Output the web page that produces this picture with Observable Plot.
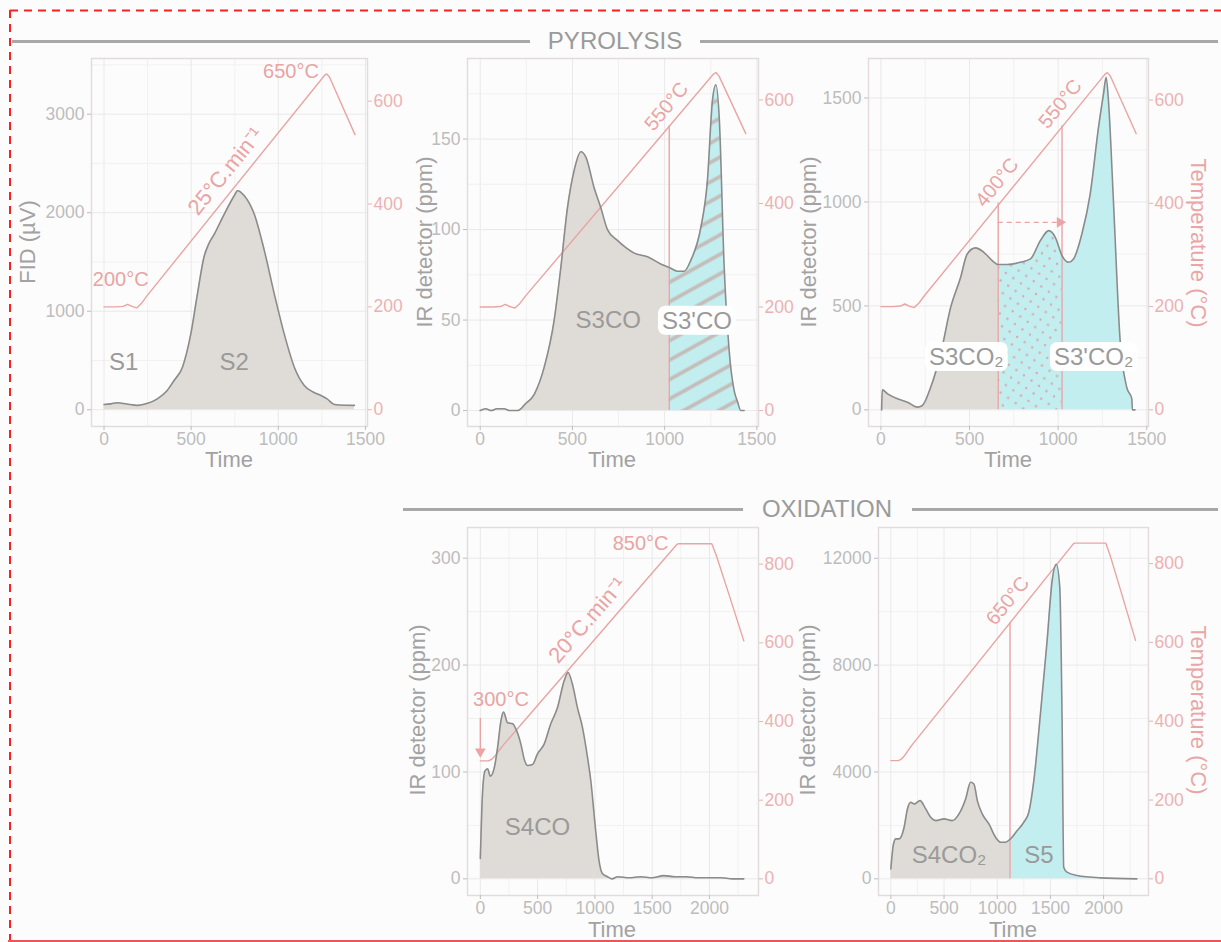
<!DOCTYPE html>
<html><head><meta charset="utf-8">
<script src="https://cdn.jsdelivr.net/npm/d3@7"></script>
<script src="https://cdn.jsdelivr.net/npm/@observablehq/plot@0.6"></script>
<style>
body{margin:0;background:#fcfcfc;}
#root{position:relative;width:1221px;height:942px;background:#fcfcfc;overflow:hidden;font-family:"Liberation Sans",Arial,sans-serif;}
.hdr{position:absolute;color:#9a9a9a;font-size:24px;line-height:1;transform:translate(-50%,-50%);white-space:nowrap;}
.hline{position:absolute;height:3px;background:#a8a8a8;}
.ytitle{position:absolute;white-space:nowrap;font-size:22px;line-height:1;color:#a2a2a2;transform:translate(-50%,-50%) rotate(-90deg);}
.ttitle{position:absolute;white-space:nowrap;font-size:22px;line-height:1;color:#eaa6a6;transform:translate(-50%,-50%) rotate(90deg);}
.xtitle{position:absolute;white-space:nowrap;font-size:22px;line-height:1;color:#a2a2a2;transform:translate(-50%,-50%);}
.pan{position:absolute;}
</style></head>
<body><div id="root"></div>
<script>
// ---------------- DATA ----------------
// temperature programmes (time s, °C)
const pyroTemp = [[0,200],[70,200],[110,201],[135,205],[160,201],[188,198],[215,207],[245,221],[1265,650],[1278,653],[1295,646],[1440,535]];
const oxTemp = [[0,300],[70,300],[100,304],[130,313],[160,325],[200,340],[1715,850],[1730,852],[2020,852],[2060,822],[2160,732],[2300,605]];
// FID signal (µV)
const fidS2 = [[0,54],[40,60],[77,71],[130,58],[192,44],[250,65],[306,111],[360,190],[402,297],[450,432],[498,770],[536,1176],[575,1560],[600,1680],[632,1780],[690,1986],[747,2172],[766,2223],[805,2172],[862,1986],[920,1615],[977,1176],[1034,770],[1092,432],[1149,247],[1200,180],[1245,145],[1280,110],[1322,54],[1380,45],[1437,44]];
// pyrolysis CO (ppm)
const coPyro = [[0,0],[30,1],[60,0],[90,1],[130,1],[160,0],[200,0],[230,2],[238,3],[293,9],[347,24],[401,50],[437,79],[473,112],[510,133],[546,143],[573,140],[618,123],[654,112],[690,100],[744,94],[790,90],[835,87],[907,85],[979,81],[1025,79],[1070,77],[1106,77],[1142,83],[1196,101],[1232,127],[1259,171],[1278,180],[1296,162],[1323,79],[1350,33],[1377,11],[1395,5],[1413,0],[1431,0]];
// pyrolysis CO2 (ppm)
const co2Pyro = [[4,0],[8,96],[38,77],[94,53],[150,37],[206,13],[234,21],[281,109],[337,269],[394,494],[450,638],[487,750],[534,779],[581,758],[628,718],[662,699],[712,699],[787,710],[844,726],[900,814],[947,862],[984,830],[1022,742],[1059,710],[1087,726],[1134,846],[1181,1038],[1228,1359],[1256,1519],[1271,1600],[1284,1487],[1312,1006],[1350,333],[1387,109],[1416,53],[1419,0],[1434,0]];
// oxidation CO (ppm)
const coOx = [[0,19],[20,82],[41,101],[64,103],[87,96],[122,104],[151,123],[180,148],[203,156],[238,146],[282,145],[311,140],[354,126],[383,112],[412,106],[456,107],[499,117],[557,126],[615,145],[673,160],[731,185],[766,193],[804,182],[848,160],[891,142],[935,114],[964,92],[1007,45],[1036,17],[1065,5],[1109,2],[1150,0],[1200,2],[1300,1],[1400,2],[1500,1],[1600,3],[1700,2],[1800,2],[1900,1],[2000,1],[2100,1],[2200,0],[2300,0]];
// oxidation CO2 (ppm)
const co2Ox = [[0,374],[25,1308],[47,1495],[78,1495],[125,1931],[156,2617],[188,2866],[219,2804],[275,2928],[328,2617],[375,2305],[422,2181],[500,2243],[578,2181],[641,2430],[703,2991],[750,3614],[781,3551],[813,2928],[859,2430],[922,2056],[984,1558],[1031,1371],[1078,1371],[1120,1480],[1188,1807],[1250,2118],[1297,2492],[1344,3676],[1406,6168],[1469,8910],[1516,11153],[1556,11776],[1588,10903],[1609,6168],[1625,436],[1656,249],[1750,125],[1969,37],[2313,0]];

// tick labels
const xTicksPyro = [0,500,1000,1500];
const xTicksOx = [0,500,1000,1500,2000];
const yTicksFid = [0,1000,2000,3000];
const yTicksCoPyro = [0,50,100,150];
const yTicksCo2Pyro = [0,500,1000,1500];
const yTicksCoOx = [0,100,200,300];
const yTicksCo2Ox = [0,4000,8000,12000];
const tTicksPyro = [0,200,400,600];
const tTicksOx = [0,200,400,600,800];

// cut times with temperature
const cutsCoPyro = [{t:1025,T:550}];
const cutsCo2Pyro = [{t:662,T:400},{t:1022,T:550}];
const cutsCo2Ox = [{t:1120,T:650}];

// labels (time, signal value, text)
const labelsP1 = [{t:113,v:480,text:"S1",kind:"r"},{t:747,v:483,text:"S2",kind:"r"},
  {t:96,v:1321,text:"200°C",kind:"T"},{t:698,v:2420,text:"25°C.min⁻¹",kind:"T",rot:-51,fs:22},{t:1073,v:3432,text:"650°C",kind:"T"}];
const labelsP2 = [{t:694,v:49.7,text:"S3CO",kind:"r"},{t:1175,v:49.4,text:"S3'CO",kind:"r",box:true},
  {t:1010,v:168,text:"550°C",kind:"T",rot:-50}];
const labelsP3 = [{t:482,v:253,text:"S3CO₂",kind:"r",box:true},{t:1200,v:253,text:"S3'CO₂",kind:"r",box:true},
  {t:655,v:1094,text:"400°C",kind:"T",rot:-51},{t:1012,v:1471,text:"550°C",kind:"T",rot:-51}];
const labelsP4 = [{t:499,v:48,text:"S4CO",kind:"r"},{t:180,v:168,text:"300°C",kind:"T"},
  {t:935,v:242,text:"20°C.min⁻¹",kind:"T",rot:-49,fs:22},{t:1399,v:314,text:"850°C",kind:"T"}];
const labelsP5 = [{t:547,v:872,text:"S4CO₂",kind:"r"},{t:1391,v:872,text:"S5",kind:"r"},
  {t:1100,v:10405,text:"650°C",kind:"T",rot:-51}];

// ---------------- STYLE ----------------
const GRAY="#dfdbd6", CYAN="#c3eef0", PINK="#e9a4a4", LINE="#8b8b8b";
const FONT='"Liberation Sans", Arial, sans-serif';

const root = document.getElementById("root");

function minorTicks(ticks, dom){
  const s = ticks[1]-ticks[0]; const out=[];
  for(let v=ticks[0]-s/2; v<=ticks[ticks.length-1]+s/2+1e-9; v+=s){ if(v>dom[0] && v<dom[1]) out.push(v); }
  return out;
}

function makePanel(cfg){
  const mL=90, mR=70, mT=12, mB=45;
  const fw=cfg.fx[1]-cfg.fx[0], fh=cfg.fy[1]-cfg.fy[0];
  const k=cfg.k;
  const curve=cfg.curve.map(([t,v])=>({t,v}));
  const temp=cfg.temp.map(([t,T])=>({t,y:T*k}));
  const marks=[];
  marks.push(Plot.gridX(minorTicks(cfg.xt,cfg.xd),{stroke:"#f1f1f1",strokeOpacity:1}));
  marks.push(Plot.gridY(minorTicks(cfg.yt,cfg.yd),{stroke:"#f1f1f1",strokeOpacity:1}));
  marks.push(Plot.gridX(cfg.xt,{stroke:"#e9e9e9",strokeOpacity:1}));
  marks.push(Plot.gridY(cfg.yt,{stroke:"#e9e9e9",strokeOpacity:1}));
  marks.push(Plot.frame({stroke:"#e3dcdc",strokeWidth:1.5}));
  for(const s of cfg.segs){
    const from = s.from ?? -Infinity, to = s.to ?? Infinity;
    const seg = curve.filter(d=>d.t>=from && d.t<=to);
    marks.push(Plot.areaY(seg,{x:"t",y:"v",fill:s.fill,curve:"monotone-x"}));
    if(s.pattern) marks.push(Plot.areaY(seg,{x:"t",y:"v",fill:`url(#${cfg.id}-${s.pattern})`,curve:"monotone-x"}));
  }
  if(cfg.cuts) marks.push(Plot.ruleX(cfg.cuts,{x:"t",y1:0,y2:d=>d.T*k,stroke:PINK,strokeWidth:1.4}));
  marks.push(Plot.line(temp,{x:"t",y:"y",stroke:PINK,strokeWidth:1.4}));
  marks.push(Plot.line(curve,{x:"t",y:"v",stroke:LINE,strokeWidth:1.6,curve:"monotone-x"}));
  if(cfg.extra) marks.push(...cfg.extra);
  const reg=cfg.labels.filter(d=>d.kind==="r");
  const tl=cfg.labels.filter(d=>d.kind==="T");
  marks.push(Plot.text(reg,{x:"t",y:"v",text:"text",fill:"#9a9a9a",fontSize:24}));
  for(const d of tl){
    marks.push(Plot.text([d],{x:"t",y:"v",text:"text",fill:PINK,fontSize:d.fs||20,rotate:d.rot||0}));
  }
  marks.push(Plot.axisX(cfg.xt,{anchor:"bottom",color:"#bdbdbd",tickSize:4,tickPadding:2,fontSize:17.5,tickFormat:d=>String(d),label:null}));
  marks.push(Plot.axisY(cfg.yt,{anchor:"left",color:"#bdbdbd",tickSize:4,tickPadding:3,fontSize:17.5,tickFormat:d=>String(d),label:null}));
  marks.push(Plot.axisY(cfg.tt.map(t=>t*k),{anchor:"right",color:"#ecb2b2",tickSize:4,tickPadding:2,fontSize:17.5,tickFormat:d=>String(Math.round(d/k)),label:null}));

  const svg = Plot.plot({
    width: fw+mL+mR, height: fh+mT+mB,
    marginLeft:mL, marginRight:mR, marginTop:mT, marginBottom:mB,
    x:{domain:cfg.xd, axis:null},
    y:{domain:cfg.yd, axis:null},
    style:{background:"transparent",fontFamily:FONT,fontSize:"17.5px",overflow:"visible"},
    marks
  });
  const wrap=document.createElement("div");
  wrap.className="pan";
  wrap.style.left=(cfg.fx[0]-mL)+"px";
  wrap.style.top=(cfg.fy[0]-mT)+"px";
  wrap.appendChild(svg);
  root.appendChild(wrap);
  // pattern defs
  const ns="http://www.w3.org/2000/svg";
  const defs=d3.create("svg:defs");
  const h=defs.append("pattern").attr("id",`${cfg.id}-hatch`).attr("patternUnits","userSpaceOnUse")
    .attr("width",20).attr("height",17).attr("patternTransform","rotate(-29)");
  h.append("line").attr("x1",-2).attr("x2",22).attr("y1",8.5).attr("y2",8.5).attr("stroke","#c4beba").attr("stroke-width",3.8);
  const p=defs.append("pattern").attr("id",`${cfg.id}-dots`).attr("patternUnits","userSpaceOnUse")
    .attr("width",13).attr("height",13).attr("patternTransform","rotate(-10)");
  p.append("circle").attr("cx",3).attr("cy",3).attr("r",1.2).attr("fill","#d8a8aa");
  p.append("circle").attr("cx",9.5).attr("cy",9.5).attr("r",1.2).attr("fill","#d8a8aa");
  svg.insertBefore(defs.node(), svg.firstChild);
  // white rounded boxes behind boxed labels
  const boxed=new Set(cfg.labels.filter(d=>d.box).map(d=>d.text));
  d3.select(svg).selectAll("text").each(function(){
    if(!boxed.has(this.textContent)) return;
    const b=this.getBBox();
    const r=document.createElementNS(ns,"rect");
    r.setAttribute("x",b.x-4); r.setAttribute("y",b.y-1);
    r.setAttribute("width",b.width+8); r.setAttribute("height",b.height+2);
    r.setAttribute("rx",7); r.setAttribute("fill","#ffffff");
    const tr=this.getAttribute("transform"); if(tr) r.setAttribute("transform",tr);
    this.parentNode.insertBefore(r,this);
  });
}

// ---------------- LAYOUT ----------------
function addDiv(cls, text, x, y){
  const d=document.createElement("div"); d.className=cls; d.textContent=text;
  d.style.left=x+"px"; d.style.top=y+"px"; root.appendChild(d); return d;
}
function addLine(x1,x2,y){
  const d=document.createElement("div"); d.className="hline";
  d.style.left=x1+"px"; d.style.width=(x2-x1)+"px"; d.style.top=(y-1.5)+"px"; root.appendChild(d);
}
// frame border
const bsvg=d3.create("svg").attr("width",1221).attr("height",942).style("position","absolute").style("left","0").style("top","0");
bsvg.append("line").attr("x1",10).attr("x2",1221).attr("y1",10.5).attr("y2",10.5).attr("stroke","#ff1f1f").attr("stroke-width",2).attr("stroke-dasharray","8,6");
bsvg.append("line").attr("x1",10).attr("x2",10).attr("y1",10).attr("y2",942).attr("stroke","#ff1f1f").attr("stroke-width",2).attr("stroke-dasharray","8,6");
bsvg.append("line").attr("x1",8).attr("x2",1221).attr("y1",941).attr("y2",941).attr("stroke","#e85858").attr("stroke-width",2);
root.appendChild(bsvg.node());

addLine(12,530,41); addLine(700,1218,41);
addDiv("hdr","PYROLYSIS",615,41);
addLine(403,743,509); addLine(912,1218,509);
addDiv("hdr","OXIDATION",827,509);

makePanel({id:"p1",fx:[91,367],fy:[58,426],xd:[-72,1512],yd:[-170,3565],k:5.22,
  xt:xTicksPyro,yt:yTicksFid,tt:tTicksPyro,curve:fidS2,temp:pyroTemp,
  segs:[{fill:GRAY}],labels:labelsP1});
makePanel({id:"p2",fx:[467,758],fy:[58,426],xd:[-69,1509],yd:[-8.8,194.5],k:0.286,
  xt:xTicksPyro,yt:yTicksCoPyro,tt:tTicksPyro,curve:coPyro,temp:pyroTemp,cuts:cutsCoPyro,
  segs:[{to:1025,fill:GRAY},{from:1025,fill:CYAN,pattern:"hatch"}],labels:labelsP2});
makePanel({id:"p3",fx:[868,1148],fy:[58,426],xd:[-70,1510],yd:[-80,1690],k:2.484,
  xt:xTicksPyro,yt:yTicksCo2Pyro,tt:tTicksPyro,curve:co2Pyro,temp:pyroTemp,cuts:cutsCo2Pyro,
  segs:[{to:662,fill:GRAY},{from:662,to:1022,fill:CYAN,pattern:"dots"},{from:1022,fill:CYAN}],labels:labelsP3,
  extra:[
    Plot.ruleY([902],{x1:662,x2:1005,stroke:PINK,strokeWidth:1.4,strokeDasharray:"5,4"}),
    Plot.dot([{t:1010,v:902}],{x:"t",y:"v",symbol:"triangle",rotate:90,r:4,fill:PINK})
  ]});
makePanel({id:"p4",fx:[467,758],fy:[527,895],xd:[-112,2428],yd:[-15.6,328.7],k:0.368,
  xt:xTicksOx,yt:yTicksCoOx,tt:tTicksOx,curve:coOx,temp:oxTemp,
  segs:[{fill:GRAY}],labels:labelsP4,
  extra:[
    Plot.ruleX([0],{y1:150,y2:121,stroke:PINK,strokeWidth:1.4}),
    Plot.dot([{t:0,v:119}],{x:"t",y:"v",symbol:"triangle",rotate:180,r:4,fill:PINK})
  ]});
makePanel({id:"p5",fx:[878,1148],fy:[527,895],xd:[-116,2422],yd:[-623,13150],k:14.75,
  xt:xTicksOx,yt:yTicksCo2Ox,tt:tTicksOx,curve:co2Ox,temp:oxTemp,cuts:cutsCo2Ox,
  segs:[{to:1120,fill:GRAY},{from:1120,fill:CYAN}],labels:labelsP5});

// axis titles
addDiv("ytitle","FID (µV)",28,242);
addDiv("xtitle","Time",229,460);
addDiv("ytitle","IR detector (ppm)",425,242);
addDiv("xtitle","Time",612,460);
addDiv("ytitle","IR detector (ppm)",809,242);
addDiv("xtitle","Time",1008,460);
addDiv("ttitle","Temperature (°C)",1198,243);
addDiv("ytitle","IR detector (ppm)",418,710);
addDiv("xtitle","Time",612,930);
addDiv("ytitle","IR detector (ppm)",808,710);
addDiv("xtitle","Time",1013,930);
addDiv("ttitle","Temperature (°C)",1198,710);
</script></body></html>
